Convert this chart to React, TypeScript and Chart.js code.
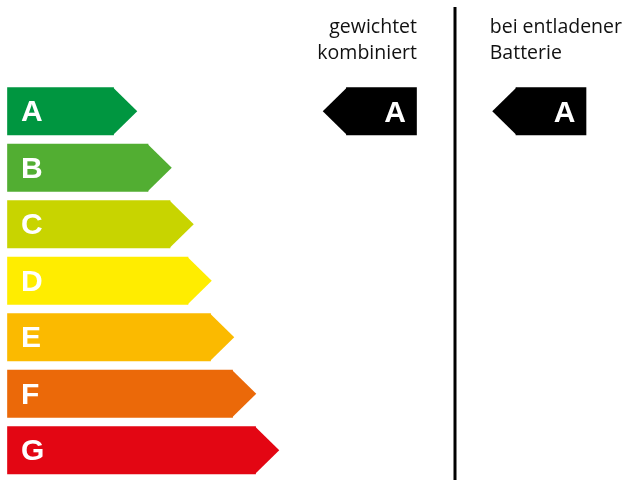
import { useEffect, useRef } from 'react';
import { Chart, registerables } from 'chart.js';

Chart.register(...registerables);

// ---- data ----
const categories = ['A', 'B', 'C', 'D', 'E', 'F', 'G'];
const scaleStart = 7.5;
const scaleEnds = [113.5, 148, 170, 188, 210.5, 232.5, 255.5];
const classColors = ['#009640', '#52ae32', '#c8d400', '#ffed00', '#fbba00', '#eb6909', '#e30613'];

const weightedClass = 'A';
const weightedRange = [346.5, 416.5];
const dischargedClass = 'A';
const dischargedRange = [516, 586];

const weightedLabel = ['gewichtet', 'kombiniert'];
const dischargedLabel = ['bei entladener', 'Batterie'];
const dividerValue = 455;

const arrowPlugin = {
  id: 'energyArrows',
  afterDatasetsDraw(chart: any) {
    const ctx = chart.ctx as CanvasRenderingContext2D;
    chart.data.datasets.forEach((ds: any, di: number) => {
      const meta = chart.getDatasetMeta(di);
      meta.data.forEach((el: any, i: number) => {
        const raw = ds.data[i];
        if (raw == null) return;
        const p = el.getProps(['x', 'base', 'y', 'height'], true);
        const left = Math.min(p.x, p.base);
        const right = Math.max(p.x, p.base);
        const top = p.y - p.height / 2;
        const bottom = p.y + p.height / 2;
        const depth = p.height / 2;
        const color = Array.isArray(ds.backgroundColor) ? ds.backgroundColor[i] : ds.backgroundColor;
        ctx.save();
        ctx.fillStyle = color;
        ctx.beginPath();
        if (ds.tip === 'right') {
          ctx.moveTo(right - 0.5, top);
          ctx.lineTo(right + depth, p.y);
          ctx.lineTo(right - 0.5, bottom);
        } else {
          ctx.moveTo(left + 0.5, top);
          ctx.lineTo(left - depth, p.y);
          ctx.lineTo(left + 0.5, bottom);
        }
        ctx.closePath();
        ctx.fill();
        // letter
        ctx.fillStyle = '#ffffff';
        ctx.font = 'bold 30px "Liberation Sans", Arial, sans-serif';
        ctx.textBaseline = 'middle';
        if (ds.tip === 'right') {
          ctx.textAlign = 'left';
          ctx.fillText(categories[i], left + 13.5, p.y + 1.5);
        } else {
          ctx.textAlign = 'right';
          ctx.fillText(categories[i], right - 10.5, p.y + 2.5);
        }
        ctx.restore();
      });
    });

    // headers and divider
    const xs = chart.scales.x;
    const wMeta = chart.getDatasetMeta(1).data[categories.indexOf(weightedClass)] as any;
    const dMeta = chart.getDatasetMeta(2).data[categories.indexOf(dischargedClass)] as any;
    const wp = wMeta.getProps(['x', 'base', 'height'], true);
    const dp = dMeta.getProps(['x', 'base', 'height'], true);
    const wRight = Math.max(wp.x, wp.base);
    const dTip = Math.min(dp.x, dp.base) - dp.height / 2;

    ctx.save();
    ctx.fillStyle = '#111111';
    ctx.font = '19.5px "Open Sans", sans-serif';
    ctx.textBaseline = 'alphabetic';
    ctx.textAlign = 'right';
    weightedLabel.forEach((t, k) => ctx.fillText(t, wRight + 0.5, 32.5 + k * 26));
    ctx.textAlign = 'left';
    dischargedLabel.forEach((t, k) => ctx.fillText(t, dTip - 2.5, 32.5 + k * 26));

    const lx = xs.getPixelForValue(dividerValue);
    ctx.strokeStyle = '#000000';
    ctx.lineWidth = 3;
    ctx.beginPath();
    ctx.moveTo(lx, 7);
    ctx.lineTo(lx, 480);
    ctx.stroke();
    ctx.restore();
  },
};

export default function App() {
  const ref = useRef<HTMLCanvasElement | null>(null);

  useEffect(() => {
    if (!ref.current) return;
    const chart = new Chart(ref.current, {
      type: 'bar',
      data: {
        labels: categories,
        datasets: [
          {
            label: 'Klassen',
            data: categories.map((_, i) => [scaleStart, scaleEnds[i]]),
            backgroundColor: classColors,
            tip: 'right',
          } as any,
          {
            label: 'gewichtet kombiniert',
            data: categories.map((c) => (c === weightedClass ? weightedRange : null)),
            backgroundColor: '#000000',
            tip: 'left',
          } as any,
          {
            label: 'bei entladener Batterie',
            data: categories.map((c) => (c === dischargedClass ? dischargedRange : null)),
            backgroundColor: '#000000',
            tip: 'left',
          } as any,
        ].map((d) => ({ ...d, grouped: false, barThickness: 47.5, borderWidth: 0 })),
      },
      options: {
        indexAxis: 'y',
        responsive: false,
        animation: false,
        layout: { padding: { top: 83, bottom: 1.5, left: 0, right: 0 } },
        plugins: { legend: { display: false }, tooltip: { enabled: false } },
        scales: {
          x: { type: 'linear', min: 0, max: 624, display: false },
          y: { type: 'category', display: false, offset: true },
        },
      },
      plugins: [arrowPlugin],
    });
    return () => chart.destroy();
  }, []);

  return (
    <div style={{ position: 'fixed', left: 0, top: 0, width: 624, height: 480, background: '#fff' }}>
      <canvas ref={ref} width={624} height={480} />
    </div>
  );
}
